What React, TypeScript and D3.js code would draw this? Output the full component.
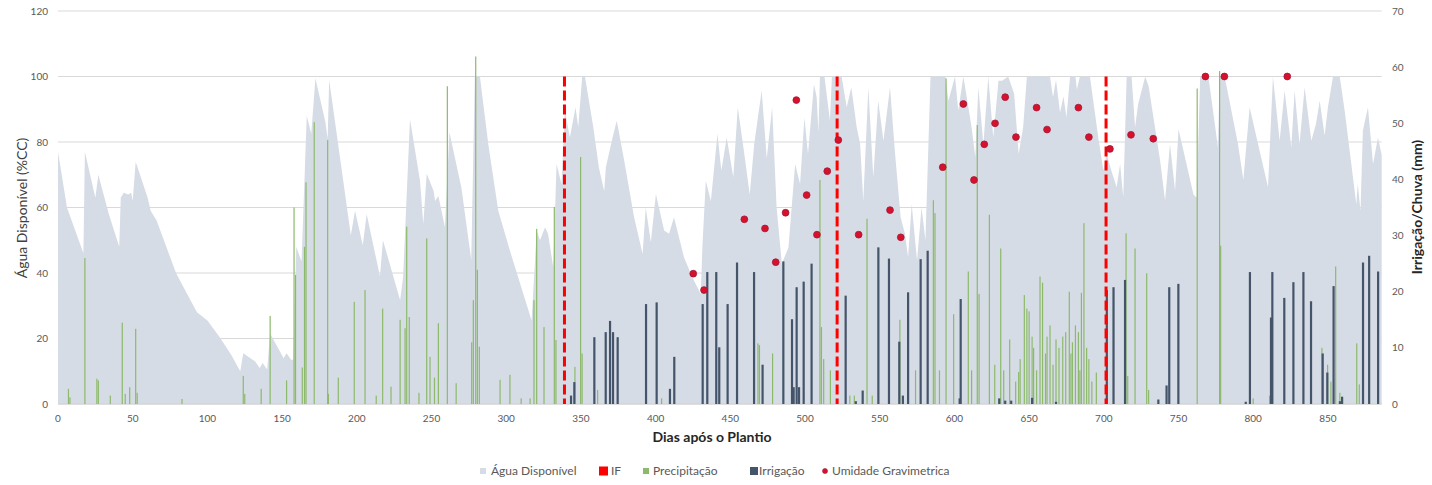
import React from "react";
import * as d3 from "d3";

// ---------- DATA ----------
// Água Disponível (%CC): [day, value]
const aguaDisponivel: [number, number][] = [
  [0,77],[6,60],[17,46],[18,77],[25,63],[27,70],[34,58],[41,48],[42,63],[44,64.5],[47,64],[49,64.5],[50,62],[52,74],[60,63],[62,59],[66,56],[79,40],[86,34],[93,28],[100,25.5],[108,20.5],[116,15],[122,10],[124,15.5],[132,13],[135,11],[137,12.5],[140,10.5],[142,21.5],[151,14],[153,15.5],[156,13.5],[157.5,13.5],[159.5,48],[163,43.5],[166.5,88],[169.5,82.5],[172.3,99.5],[179,86],[180.5,81],[181.5,99],[196,51.5],[198.8,59],[204,48.5],[206.6,58],[215.5,39],[217.5,50],[229,31.7],[231,38.8],[235.6,87],[242.3,68.2],[244.5,55],[246.8,70.3],[251.5,65],[252.4,62],[254.6,63.5],[259,54],[262,83],[270,66],[276.6,44],[279,100],[282.4,100],[288,79.4],[294.7,59],[302.5,46.8],[308,38.7],[317,25.5],[320.4,53],[322.6,50],[326,54],[328,52],[331.5,41.7],[333.7,73.3],[337,67.2],[339.3,89.6],[342.6,81.4],[346.4,90.6],[348.2,84.5],[350.9,100],[352.7,100],[358.3,84.5],[362,72.3],[365.6,65],[366.7,72.3],[371.2,81.4],[374,86.5],[379,74.3],[385.6,57],[391.3,45.8],[393.4,60],[396.8,49.4],[400.2,64.1],[405.7,53],[409,52],[412.3,57],[419,44.8],[424.6,38.7],[430.2,33.6],[431.4,48.9],[433.6,68.2],[437,62],[441.4,82.5],[444,71.3],[447.6,81.4],[452,69.2],[455,90.6],[460,74.3],[463,64],[466,79.4],[471,95.7],[474.4,75],[478,90.6],[481,60],[484.5,42.8],[488.9,47.8],[493.4,73.3],[496.7,67.2],[499.6,87.5],[502,76.3],[506,97.7],[507.8,93.7],[509,83],[510,100],[513,100],[516.7,86.5],[518,100],[524.5,100],[527.9,90.6],[531,96.7],[534.6,84.5],[536.9,79.4],[539,62],[542.4,96.7],[545.7,69.2],[549,92.6],[552.5,80.4],[556.9,96.7],[560.3,76.3],[564,57],[566.9,52],[569,44.8],[571.4,61],[575,43.8],[578,60],[580.6,50],[584,100],[594,100],[596,92.6],[600.4,100],[602.6,89.6],[606,100],[611.5,84.5],[614,75.3],[616,96.7],[619.4,79.4],[622.7,100],[626,81.4],[629.5,98.7],[632,98.7],[636,100],[640,94.7],[643,76.3],[646,84.5],[648.5,100],[664,100],[666,93.7],[668,99],[670.7,89],[673,94],[675,87.5],[677.4,100],[681,100],[682,96],[684,100],[690.7,100],[696.3,81.4],[699.7,71.3],[701.9,76.3],[705,71.3],[708.6,66.2],[710.9,73.3],[713,63.1],[715.3,100],[718.6,100],[720.9,84.5],[723,91.6],[727.7,100],[730,97],[737.7,74.3],[741,62.1],[744.3,79.4],[747.7,65.2],[750,84],[760,64],[762.2,63],[764.5,100],[770,100],[776.4,78.4],[777.5,100],[780.9,100],[789.8,79.4],[793.4,68.4],[797.6,90.6],[809.9,66.2],[813.2,100],[817.7,80.4],[821,95.7],[825.5,78.4],[827.7,95.7],[831,79.4],[834.4,96.7],[838.9,80.4],[842,85.5],[844.5,92.6],[847.8,82],[850,90.6],[853.4,100],[857.9,100],[861.2,89.6],[869,61],[870,67.2],[871.8,59],[873.4,83.5],[876.8,90.6],[880.2,73.3],[883.5,81.4],[886,76]
];

// Precipitação (mm): [day, value]
const precipitacao: [number, number][] = [
  [7,2.7],[8,1.2],[18,26],[26,4.5],[27,4.2],[35,1.5],[43,14.5],[45,1.8],[48,3],[52,13.4],[53,2],[83,0.9],[124,5],[125,1.8],[136,2.7],[142,15.7],[153,4.2],[158,35],[159,23],[163.5,6.5],[165,28],[166,39.5],[171.5,50.2],[180.5,47],[181,1.8],[187.6,4.7],[198.3,18.2],[205.5,20.3],[213,1.5],[217.3,17],[222.9,3.1],[229,15],[232.3,13.5],[233.4,31.6],[235.1,15.5],[241.6,2],[246.8,29.5],[249,8.4],[252,4.7],[254.6,14.4],[260.6,56.6],[266.5,3.7],[276.9,11],[278,18.5],[279.6,61.9],[280.7,23.9],[282,10.2],[295.9,4.3],[302.5,5.2],[310,1],[316,1],[318.6,18.5],[320.4,31.2],[325.3,13.7],[332.2,35.1],[333.3,11.4],[346,6.6],[349.8,44],[350.8,9],[361.2,2.5],[404,1],[468.5,10.8],[469.5,10.5],[478.3,9],[510,39.9],[511,13.7],[512.5,8],[517,6],[530,1.5],[533,1.5],[541.5,33],[545,1.5],[563.5,15],[574,6],[585.9,36.3],[587,34],[590,6],[594.4,58],[599.5,16],[609.3,23.6],[611.5,6],[615.3,49.7],[616.5,19.6],[623.4,33.7],[627,7],[631,27.7],[633,6],[637,11.5],[641,4],[643,5.7],[644,8],[646.8,19.4],[648.5,17],[650,16.5],[652,12],[653,10],[655,6],[657.3,22.7],[659,21.6],[661,9],[662,12],[664,14],[666,7],[668,11.5],[670,10],[672.5,12],[674.5,12.8],[676.9,20],[678,9],[679,11],[681,14],[683,12.8],[684,6],[685,19.8],[686.7,32.2],[688.5,10],[690,8],[692,4],[695,5.6],[714.9,30.4],[716,5],[720.9,27.7],[728.7,23.3],[730,2.5],[762.5,56.2],[777.5,59.3],[778.2,28.2],[800,1],[811,1.5],[846,10],[849.8,7],[852,4],[855.2,24.5],[858,2],[869.3,10.8],[871,3.5]
];

// Irrigação (mm): [day, value]
const irrigacao: [number, number][] = [
  [343.4,1.5],[345.6,3.9],[359,11.9],[366.6,12.8],[369.5,14.8],[371.5,12.8],[374.6,11.9],[393.6,17.8],[400.7,18.1],[409.6,2.7],[412.5,8.4],[431.5,17.8],[434.6,23.5],[440.6,23.5],[442.6,10.1],[448.2,17.8],[454.5,25.2],[465.9,23.5],[471.6,7],[485.5,25.4],[491.3,15.1],[492.4,3],[494.4,20.8],[496,3],[499.1,21.8],[504.4,25],[527.2,19.3],[534,0.5],[538.6,2.4],[549.1,27.9],[556.2,25.9],[563.1,11.1],[565.5,1.5],[569,19.9],[577.4,25.8],[582.1,27.3],[603.5,1],[604.2,18.7],[630,1],[634,0.6],[638,0.6],[652,1.1],[668,0.4],[702,20.3],[706.5,20.8],[714.2,22.1],[736.5,0.8],[742,3.3],[743.8,20.8],[749.9,21.4],[795,0.4],[797.8,23.5],[811.9,15.4],[812.8,23.5],[820.8,18.9],[826.9,21.7],[833.6,23.5],[838.7,18.3],[846.5,9],[849.6,5.6],[853.8,21],[858,0.5],[859.5,1.3],[873.5,25.2],[877.6,26.4],[883.6,23.6]
];

// Umidade Gravimetrica (%CC): [day, value]
const umidade: [number, number][] = [
  [425.2,39.8],[432.4,34.8],[459.4,56.4],[473.2,53.6],[480.4,43.3],[487,58.4],[494.2,92.8],[501.1,63.8],[508,51.7],[514.9,71.1],[522.3,80.6],[535.9,51.7],[556.9,59.2],[564.1,50.9],[592.2,72.3],[606,91.6],[613.1,68.4],[620,79.3],[627.2,85.7],[634,93.7],[641.2,81.5],[655,90.5],[662,83.8],[683,90.5],[690,81.5],[704.1,77.9],[718.2,82.2],[733.1,81],[768,100],[780.7,100],[822.8,100]
];

// IF: days of the dashed markers (value = 100 %CC)
const ifDias: number[] = [339, 521.5, 701.5];
const ifValor = 100;

const xTicks: number[] = [0,50,100,150,200,250,300,350,400,450,500,550,600,650,700,750,800,850];
const yLeftTicks: number[] = [0,20,40,60,80,100,120];
const yRightTicks: number[] = [0,10,20,30,40,50,60,70];

const legendItems = [
  { label: "Água Disponível", kind: "area" },
  { label: "IF", kind: "if" },
  { label: "Precipitação", kind: "prec" },
  { label: "Irrigação", kind: "irr" },
  { label: "Umidade Gravimetrica", kind: "dot" },
];

// ---------- STYLE ----------
const W = 1432, H = 485;
const FONT = "Lato, 'Open Sans', 'Noto Sans', sans-serif";
const C_AREA = "#D6DCE5";
const C_PREC = "#8DB96C";
const C_IRR = "#44546A";
const C_IF = "#FF0000";
const C_DOT = "#D9102C";
const C_DOT_STROKE = "#9B1B3B";
const C_GRID = "#D9D9D9";
const C_TICK = "#595959";

export default function App() {
  const x = d3.scaleLinear().domain([0, 886]).range([58, 1381.7]);
  const yL = d3.scaleLinear().domain([0, 120]).range([404, 11]);
  const yR = d3.scaleLinear().domain([0, 70]).range([404, 11]);

  const area = d3
    .area<[number, number]>()
    .x((d) => x(d[0]))
    .y0(yL(0))
    .y1((d) => yL(d[1]))
    .curve(d3.curveLinear);

  const legendPos: Record<string, { sx: number; tx: number }> = {
    area: { sx: 480, tx: 491 },
    if: { sx: 599, tx: 611 },
    prec: { sx: 643, tx: 653 },
    irr: { sx: 750, tx: 759 },
    dot: { sx: 825, tx: 832 },
  };

  return (
    <svg
      width={W}
      height={H}
      viewBox={`0 0 ${W} ${H}`}
      style={{ position: "absolute", left: 0, top: 0, background: "#fff" }}
      fontFamily={FONT}
    >
      {/* gridlines */}
      {yLeftTicks.map((t) => (
        <line key={"g" + t} x1={x(0)} x2={x(886)} y1={yL(t)} y2={yL(t)} stroke={C_GRID} strokeWidth={1} />
      ))}

      {/* area */}
      <path d={area(aguaDisponivel) || ""} fill={C_AREA} />

      {/* baseline */}
      <line x1={x(0)} x2={x(886)} y1={yL(0)} y2={yL(0)} stroke="#D0D0D0" strokeWidth={1} />

      {/* precipitation bars */}
      {precipitacao.map(([d, v], i) => (
        <rect key={"p" + i} x={x(d) - 0.6} y={yR(v)} width={1.2} height={yR(0) - yR(v)} fill={C_PREC} />
      ))}

      {/* irrigation bars */}
      {irrigacao.map(([d, v], i) => (
        <rect key={"i" + i} x={x(d) - 1.1} y={yR(v)} width={2.2} height={yR(0) - yR(v)} fill={C_IRR} />
      ))}

      {/* IF dashed lines */}
      {ifDias.map((d, i) => (
        <line key={"if" + i} x1={x(d)} x2={x(d)} y1={yL(ifValor)} y2={yL(0)} stroke={C_IF} strokeWidth={3} strokeDasharray="10,4" />
      ))}

      {/* gravimetric moisture points */}
      {umidade.map(([d, v], i) => (
        <circle key={"u" + i} cx={x(d)} cy={yL(v)} r={3.4} fill={C_DOT} stroke={C_DOT_STROKE} strokeWidth={0.8} />
      ))}

      {/* left axis labels */}
      {yLeftTicks.map((t) => (
        <text key={"yl" + t} x={48} y={yL(t) + 3.5} textAnchor="end" fontSize={10} fill={C_TICK}>
          {t}
        </text>
      ))}
      {/* right axis labels */}
      {yRightTicks.map((t) => (
        <text key={"yr" + t} x={1392} y={yR(t) + 3.5} textAnchor="start" fontSize={10} fill={C_TICK}>
          {t}
        </text>
      ))}
      {/* x axis labels */}
      {xTicks.map((t) => (
        <text key={"x" + t} x={x(t)} y={422} textAnchor="middle" fontSize={10} fill={C_TICK}>
          {t}
        </text>
      ))}

      {/* axis titles */}
      <text transform="translate(27,208) rotate(-90)" textAnchor="middle" fontSize={14} fill="#404040">
        Água Disponível (%CC)
      </text>
      <text transform="translate(1422,207) rotate(-90)" textAnchor="middle" fontSize={14} fontWeight="bold" fill="#262626">
        Irrigação/Chuva (mm)
      </text>
      <text x={712} y={442} textAnchor="middle" fontSize={14} fontWeight="bold" fill="#262626">
        Dias após o Plantio
      </text>

      {/* legend */}
      {legendItems.map((it) => {
        const p = legendPos[it.kind];
        let sym: React.ReactNode = null;
        if (it.kind === "area") sym = <rect x={p.sx} y={468} width={6} height={6} fill={C_AREA} />;
        if (it.kind === "if") sym = <rect x={p.sx} y={466.5} width={9} height={9} fill={C_IF} />;
        if (it.kind === "prec") sym = <rect x={p.sx} y={468} width={6} height={6} fill={C_PREC} />;
        if (it.kind === "irr") sym = <rect x={p.sx} y={467} width={8} height={8} fill={C_IRR} />;
        if (it.kind === "dot") sym = <circle cx={p.sx} cy={471} r={2.5} fill={C_DOT} stroke={C_DOT_STROKE} strokeWidth={0.6} />;
        return (
          <g key={it.kind}>
            {sym}
            <text x={p.tx} y={475} fontSize={12} fill={C_TICK}>
              {it.label}
            </text>
          </g>
        );
      })}
    </svg>
  );
}
